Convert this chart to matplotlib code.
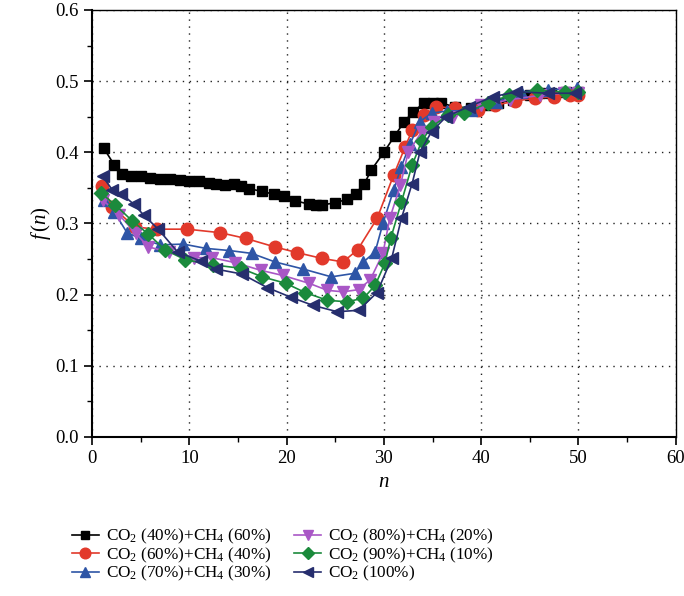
import matplotlib
matplotlib.use('Agg')
import matplotlib.pyplot as plt
from matplotlib.ticker import MultipleLocator

plt.rcParams['font.family'] = 'Liberation Serif'
plt.rcParams['mathtext.fontset'] = 'custom'
plt.rcParams['mathtext.rm'] = 'Liberation Serif'
plt.rcParams['mathtext.it'] = 'Liberation Serif:italic'

# CO2 (40%) + CH4 (60%)
x_40 = [1.2, 2.3, 3.1, 4, 5, 6, 7, 8, 9, 10, 11, 12, 12.7, 13.7, 14.6, 15.3, 16.1, 17.5, 18.7, 19.7,
        20.9, 22.3, 23, 23.6, 25, 26.2, 27.1, 28, 28.7, 30, 31.1, 32.1, 33, 34.1, 35, 35.9, 37.3, 39,
        40.5, 41.7, 43.3, 45, 46, 47.2, 48.7, 50]
y_40 = [0.406, 0.382, 0.369, 0.367, 0.366, 0.364, 0.363, 0.362, 0.361, 0.360, 0.359, 0.357, 0.355,
        0.354, 0.355, 0.352, 0.349, 0.345, 0.341, 0.338, 0.332, 0.327, 0.326, 0.326, 0.329, 0.334,
        0.342, 0.356, 0.375, 0.400, 0.423, 0.443, 0.457, 0.469, 0.469, 0.469, 0.464, 0.462, 0.466,
        0.469, 0.474, 0.480, 0.483, 0.484, 0.485, 0.485]

# CO2 (60%) + CH4 (40%)
x_60 = [1.06, 2.1, 4.4, 6.7, 9.8, 13.2, 15.8, 18.8, 21.1, 23.6, 25.8, 27.3, 29.3, 31, 32.2, 32.9,
        34.1, 35.4, 37.3, 39.7, 41.4, 43.5, 45.5, 47.5, 49.1, 50]
y_60 = [0.352, 0.323, 0.295, 0.292, 0.292, 0.287, 0.279, 0.267, 0.259, 0.251, 0.246, 0.263, 0.307,
        0.368, 0.408, 0.431, 0.452, 0.464, 0.462, 0.459, 0.466, 0.472, 0.476, 0.478, 0.480, 0.480]

# CO2 (70%) + CH4 (30%)
x_70 = [1.2, 2.3, 3.6, 5.0, 7.0, 9.4, 11.7, 14.1, 16.4, 18.8, 21.7, 24.6, 27.0, 27.9, 29.1, 29.9,
        31.0, 31.8, 32.7, 33.7, 34.9, 36.5, 39.0, 41.5, 44.1, 46.9, 49.8]
y_70 = [0.333, 0.316, 0.287, 0.279, 0.270, 0.271, 0.265, 0.262, 0.258, 0.246, 0.236, 0.225, 0.230,
        0.246, 0.260, 0.300, 0.347, 0.380, 0.412, 0.443, 0.455, 0.458, 0.459, 0.470, 0.485, 0.488, 0.490]

# CO2 (80%) + CH4 (20%)
x_80 = [1.1, 2.8, 4.5, 5.8, 7.9, 10.5, 12.3, 14.7, 17.4, 19.6, 22.3, 24.2, 25.8, 27.4, 28.6, 29.9,
        30.6, 31.7, 32.5, 33.9, 35.2, 37.1, 40.0, 43, 46, 48.5, 50]
y_80 = [0.333, 0.312, 0.286, 0.267, 0.260, 0.252, 0.252, 0.245, 0.234, 0.227, 0.216, 0.206, 0.204,
        0.207, 0.221, 0.258, 0.307, 0.354, 0.400, 0.429, 0.443, 0.450, 0.466, 0.474, 0.480, 0.483, 0.483]

# CO2 (90%) + CH4 (10%)
x_90 = [0.9, 2.4, 4.1, 5.8, 7.5, 9.6, 12.4, 15.3, 17.5, 19.9, 21.9, 24.2, 26.2, 27.9, 29.1, 30.1,
        30.7, 31.8, 32.9, 33.9, 34.9, 36.6, 38.2, 40.7, 42.9, 45.7, 48.6, 50]
y_90 = [0.343, 0.326, 0.304, 0.285, 0.263, 0.249, 0.242, 0.237, 0.225, 0.216, 0.203, 0.192, 0.190,
        0.195, 0.213, 0.244, 0.279, 0.330, 0.382, 0.416, 0.436, 0.452, 0.455, 0.469, 0.480, 0.487,
        0.485, 0.485]

# CO2 (100%)
x_100 = [1.1, 2.1, 3.0, 4.3, 5.3, 6.8, 8.8, 11.2, 12.7, 15.4, 18.0, 20.5, 22.7, 25.2, 27.4, 29.3,
         30.8, 31.8, 32.9, 33.7, 34.9, 36.4, 38.7, 41.2, 43.6, 46.9, 49.6]
y_100 = [0.366, 0.347, 0.342, 0.327, 0.312, 0.292, 0.260, 0.247, 0.236, 0.229, 0.210, 0.196, 0.185,
         0.176, 0.178, 0.203, 0.251, 0.307, 0.356, 0.400, 0.429, 0.450, 0.464, 0.478, 0.485, 0.483,
         0.483]

labels = [r'CO$_2$ (40%)+CH$_4$ (60%)', r'CO$_2$ (60%)+CH$_4$ (40%)',
          r'CO$_2$ (70%)+CH$_4$ (30%)', r'CO$_2$ (80%)+CH$_4$ (20%)',
          r'CO$_2$ (90%)+CH$_4$ (10%)', r'CO$_2$ (100%)']

series = [(x_40, y_40, 's', '#000000', 7),
          (x_60, y_60, 'o', '#e2392b', 9),
          (x_70, y_70, '^', '#2e55a6', 9),
          (x_80, y_80, 'v', '#a957c6', 9),
          (x_90, y_90, 'D', '#1b8a3c', 7.5),
          (x_100, y_100, '<', '#262e6e', 9)]

fig = plt.figure(figsize=(6.84, 5.96), dpi=100)
ax = fig.add_axes([0.1345, 0.2668, 0.8535, 0.7165])

for (xs, ys, m, c, ms), lab in zip(series, labels):
    ax.plot(xs, ys, marker=m, color=c, markersize=ms, linewidth=1.2, label=lab)

ax.set_xlim(0, 60)
ax.set_ylim(0, 0.6)
ax.xaxis.set_major_locator(MultipleLocator(10))
ax.xaxis.set_minor_locator(MultipleLocator(5))
ax.yaxis.set_major_locator(MultipleLocator(0.1))
ax.yaxis.set_minor_locator(MultipleLocator(0.05))
ax.yaxis.set_major_formatter(plt.FormatStrFormatter('%.1f'))
ax.tick_params(which='major', direction='out', length=6, width=1.2, labelsize=13.5)
ax.tick_params(which='minor', direction='out', length=3.5, width=1.0)
ax.grid(True, which='major', linestyle=(0, (1, 4)), color='#222222', linewidth=1.0)
for sp in ['left', 'bottom']:
    ax.spines[sp].set_linewidth(1.5)
for sp in ['top', 'right']:
    ax.spines[sp].set_linewidth(1.0)

ax.set_xlabel('$n$', fontsize=15)
ax.set_ylabel('$f\\,(n)$', fontsize=15, labelpad=2)

h, l = ax.get_legend_handles_labels()
fig.legend(h, l, loc='upper left', bbox_to_anchor=(0.095, 0.127), ncol=2,
           fontsize=12.3, frameon=False, handlelength=1.6, handletextpad=0.4,
           columnspacing=1.3, labelspacing=-0.05, borderaxespad=0, markerscale=0.85)

fig.savefig('out.png', dpi=100)
